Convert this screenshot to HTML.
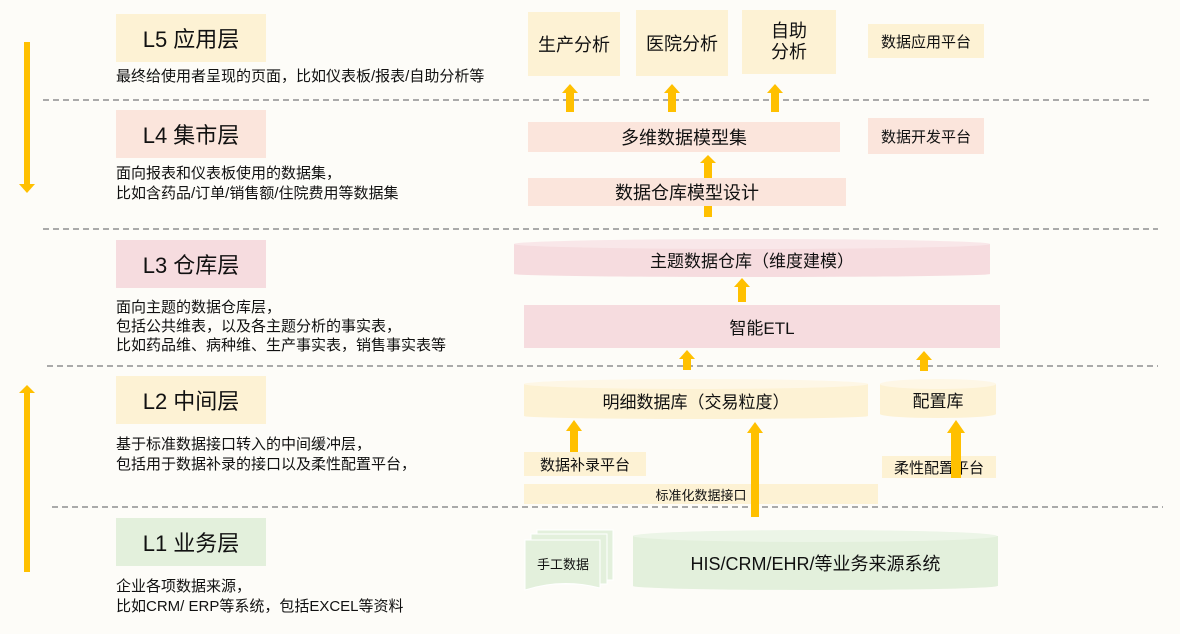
<!DOCTYPE html>
<html><head><meta charset="utf-8"><style>
body{margin:0;width:1180px;height:634px;background:#fdfcf8;position:relative;overflow:hidden;font-family:"Liberation Sans","Noto Sans CJK SC",sans-serif;color:#111}
.b{position:absolute;display:flex;align-items:center;justify-content:center;text-align:center}
.t{position:absolute;font-size:15px;line-height:20px;white-space:nowrap}
.h{font-size:22px}
.y{background:#fdf2d4}.p{background:#fbe5dc}.r{background:#f6dcdf}.g{background:#e3f0dc}
svg{position:absolute;left:0;top:0}
</style></head><body>
<svg width="1180" height="634">
<g stroke="#aaa" stroke-width="2" stroke-dasharray="6,4">
<line x1="43" y1="100" x2="1153" y2="100"/>
<line x1="43" y1="229" x2="1158" y2="229"/>
<line x1="47" y1="366" x2="1158" y2="366"/>
<line x1="52" y1="507" x2="1163" y2="507"/>
</g>
<g fill="#ffc000">
<rect x="24" y="42" width="6" height="142"/><polygon points="19,184 35,184 27,193"/>
<rect x="24" y="392" width="6" height="180"/><polygon points="19,393 35,393 27,385"/>
</g>
<rect x="514" y="244" width="476" height="30" fill="#f6dcdf"/>
<ellipse cx="752" cy="244" rx="238" ry="5" fill="#f9e7e9"/>
<ellipse cx="752" cy="274" rx="238" ry="3" fill="#f6dcdf"/>
<rect x="524" y="384" width="344" height="32" fill="#fdf2d4"/>
<ellipse cx="696" cy="384" rx="172" ry="5" fill="#fef7e6"/>
<ellipse cx="696" cy="416" rx="172" ry="3" fill="#fdf2d4"/>
<rect x="880" y="384" width="116" height="30" fill="#fdf2d4"/>
<ellipse cx="938" cy="384" rx="58" ry="5" fill="#fef7e6"/>
<ellipse cx="938" cy="414" rx="58" ry="4" fill="#fdf2d4"/>
<rect x="633" y="536" width="365" height="50" fill="#e3f0dc"/>
<ellipse cx="815" cy="536" rx="182" ry="6" fill="#ecf5e7"/>
<ellipse cx="815" cy="586" rx="182" ry="4" fill="#e3f0dc"/>
<rect x="537" y="530" width="76" height="50" fill="#e3f0dc" stroke="#fff"/>
<rect x="531" y="534" width="76" height="50" fill="#e3f0dc" stroke="#fff"/>
<path d="M525 540 H600 V588 Q562 578 525 590 Z" fill="#e3f0dc" stroke="#fff"/>
</svg>

<div class="b y h" style="left:116px;top:14px;width:150px;height:48px">L5 应用层</div>
<div class="t" style="left:116px;top:67px">最终给使用者呈现的页面，比如仪表板/报表/自助分析等</div>
<div class="b p h" style="left:116px;top:110px;width:150px;height:48px">L4 集市层</div>
<div class="t" style="left:116px;top:164px">面向报表和仪表板使用的数据集，<br>比如含药品/订单/销售额/住院费用等数据集</div>
<div class="b r h" style="left:116px;top:240px;width:150px;height:48px">L3 仓库层</div>
<div class="t" style="left:116px;top:298px;line-height:19px">面向主题的数据仓库层，<br>包括公共维表，以及各主题分析的事实表，<br>比如药品维、病种维、生产事实表，销售事实表等</div>
<div class="b y h" style="left:116px;top:376px;width:150px;height:48px">L2 中间层</div>
<div class="t" style="left:116px;top:435px">基于标准数据接口转入的中间缓冲层，<br>包括用于数据补录的接口以及柔性配置平台，</div>
<div class="b g h" style="left:116px;top:518px;width:150px;height:48px">L1 业务层</div>
<div class="t" style="left:116px;top:577px">企业各项数据来源，<br>比如CRM/ ERP等系统，包括EXCEL等资料</div>

<div class="b y" style="left:528px;top:12px;width:92px;height:64px;font-size:18px">生产分析</div>
<div class="b y" style="left:636px;top:10px;width:92px;height:66px;font-size:18px">医院分析</div>
<div class="b y" style="left:742px;top:10px;width:94px;height:64px;font-size:18px;line-height:21px">自助<br>分析</div>
<div class="b y" style="left:868px;top:24px;width:116px;height:34px;font-size:15px">数据应用平台</div>
<div class="b p" style="left:528px;top:122px;width:312px;height:30px;font-size:18px">多维数据模型集</div>
<div class="b p" style="left:868px;top:118px;width:116px;height:36px;font-size:15px">数据开发平台</div>
<div class="b p" style="left:528px;top:178px;width:318px;height:28px;font-size:18px">数据仓库模型设计</div>
<div class="b" style="left:514px;top:244px;width:476px;height:30px;font-size:17px">主题数据仓库（维度建模）</div>
<div class="b r" style="left:524px;top:305px;width:476px;height:43px;font-size:17px">智能ETL</div>
<div class="b" style="left:524px;top:384px;width:344px;height:32px;font-size:17px">明细数据库（交易粒度）</div>
<div class="b" style="left:880px;top:384px;width:116px;height:30px;font-size:17px">配置库</div>
<div class="b y" style="left:524px;top:452px;width:122px;height:24px;font-size:15px">数据补录平台</div>
<div class="b y" style="left:882px;top:456px;width:114px;height:22px;font-size:15px">柔性配置平台</div>
<div class="b y" style="left:524px;top:484px;width:354px;height:20px;font-size:13px">标准化数据接口</div>
<div class="b" style="left:525px;top:540px;width:76px;height:46px;font-size:13px">手工数据</div>
<div class="b" style="left:633px;top:538px;width:365px;height:50px;font-size:18px">HIS/CRM/EHR/等业务来源系统</div>

<svg width="1180" height="634">
<g fill="#ffc000">
<rect x="566" y="92" width="8" height="20"/><polygon points="562,93 578,93 570,84"/>
<rect x="668" y="92" width="8" height="20"/><polygon points="664,93 680,93 672,84"/>
<rect x="771" y="92" width="8" height="20"/><polygon points="767,93 783,93 775,84"/>
<rect x="704" y="162" width="8" height="16"/><polygon points="700,163 716,163 708,155"/>
<rect x="704" y="206" width="8" height="11"/>
<rect x="738" y="286" width="8" height="16"/><polygon points="734,287 750,287 742,278"/>
<rect x="683" y="358" width="8" height="12"/><polygon points="679,359 695,359 687,350"/>
<rect x="920" y="359" width="8" height="12"/><polygon points="916,360 932,360 924,351"/>
<rect x="570" y="430" width="8" height="22"/><polygon points="566,431 582,431 574,420"/>
<rect x="751" y="432" width="8" height="85"/><polygon points="747,433 763,433 755,422"/>
<rect x="951" y="432" width="10" height="46"/><polygon points="947,433 965,433 956,420"/>
</g>
</svg>
</body></html>
